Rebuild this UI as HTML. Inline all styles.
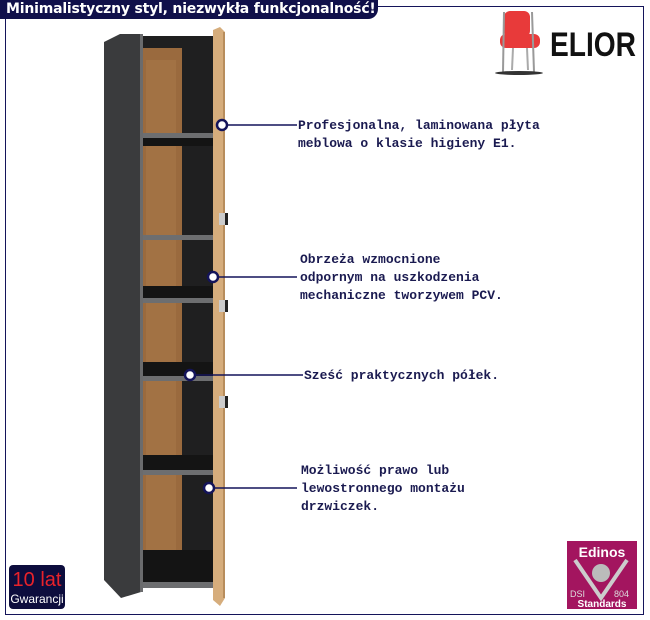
<!DOCTYPE html>
<html><head><meta charset="utf-8"><style>
body{margin:0;width:650px;height:620px;background:#fff;overflow:hidden;font-family:"Liberation Sans",sans-serif}
.t{position:absolute;font-family:"Liberation Mono","DejaVu Sans Mono",monospace;font-weight:bold;font-size:13px;color:#1a1a50;line-height:18px}
</style></head><body>
<div style="position:absolute;left:5px;top:6px;width:637px;height:607px;border:1.5px solid #14145a"></div>
<div style="position:absolute;left:0;top:0;width:378px;height:19px;background:#10104a;border-bottom-right-radius:10px;color:#fff;font-weight:bold;font-size:14px;line-height:18px;padding-left:6px;box-sizing:border-box;font-family:'DejaVu Sans',sans-serif;letter-spacing:-0.2px">Minimalistyczny styl, niezwykła funkcjonalność!</div>
<svg width="650" height="620" style="position:absolute;left:0;top:0">
<!-- chair -->
<g>
<rect x="504" y="11" width="26" height="26" rx="6" fill="#e83a3a"/>
<rect x="500" y="34" width="40" height="14" rx="6" fill="#e83a3a"/>
<line x1="504" y1="12" x2="503" y2="72" stroke="#999" stroke-width="2"/>
<line x1="532" y1="12" x2="534" y2="72" stroke="#999" stroke-width="2"/>
<line x1="513" y1="48" x2="512" y2="70" stroke="#aaa" stroke-width="2"/>
<line x1="527" y1="48" x2="528" y2="70" stroke="#aaa" stroke-width="2"/>
<ellipse cx="519" cy="73" rx="24" ry="2" fill="#333"/>
</g>
<text x="550" y="56" font-family="Liberation Sans Narrow,Liberation Sans,sans-serif" font-weight="bold" font-size="34" fill="#111" textLength="86" lengthAdjust="spacingAndGlyphs">ELIOR</text>
<!-- cabinet side -->
<polygon points="104,42 120,34 141,34 141,592 121,598 104,580" fill="#3a3b3d"/>
<rect x="140" y="34" width="3" height="558" fill="#6a6b6d"/>
<rect x="143" y="36" width="70" height="552" fill="#1f1f20"/>
<rect x="143" y="48" width="39" height="530" fill="#9a6a3e"/>
<rect x="146" y="60" width="30" height="510" fill="#a9784a" opacity="0.6"/>
<g fill="#6d6e70">
<rect x="143" y="133" width="70" height="5"/>
<rect x="143" y="235" width="70" height="5"/>
<rect x="143" y="298" width="70" height="5"/>
<rect x="143" y="376" width="70" height="5"/>
<rect x="143" y="470" width="70" height="5"/>
<rect x="143" y="582" width="70" height="6"/>
</g>
<g fill="#141414">
<rect x="143" y="138" width="70" height="8"/>
<rect x="143" y="286" width="70" height="12"/>
<rect x="143" y="362" width="70" height="14"/>
<rect x="143" y="455" width="70" height="15"/>
<rect x="143" y="550" width="70" height="32"/>
</g>
<!-- door -->
<polygon points="213,30 220,27 225,32 225,598 220,606 213,600" fill="#d6ad7c"/>
<rect x="223" y="32" width="2" height="566" fill="#b88d5c"/>
<rect x="219" y="213" width="9" height="12" fill="#ccc"/><rect x="225" y="213" width="3" height="12" fill="#222"/>
<rect x="219" y="300" width="9" height="12" fill="#ccc"/><rect x="225" y="300" width="3" height="12" fill="#222"/>
<rect x="219" y="396" width="9" height="12" fill="#ccc"/><rect x="225" y="396" width="3" height="12" fill="#222"/>
<!-- connectors -->
<g stroke="#14145a" stroke-width="1.5" fill="#fff">
<line x1="222" y1="125" x2="297" y2="125"/>
<line x1="213" y1="277" x2="297" y2="277"/>
<line x1="190" y1="375" x2="303" y2="375"/>
<line x1="209" y1="488" x2="297" y2="488"/>
<circle cx="222" cy="125" r="5" stroke-width="2.5"/>
<circle cx="213" cy="277" r="5" stroke-width="2.5"/>
<circle cx="190" cy="375" r="5" stroke-width="2.5"/>
<circle cx="209" cy="488" r="5" stroke-width="2.5"/>
</g>
<!-- badges -->
<rect x="9" y="565" width="56" height="44" rx="4" fill="#0d0d3d"/>
<text x="37" y="586" text-anchor="middle" font-size="20" fill="#e8222a" font-family="Liberation Sans,sans-serif">10 lat</text>
<text x="37" y="603" text-anchor="middle" font-size="12" fill="#fff" font-family="Liberation Sans,sans-serif">Gwarancji</text>
<rect x="567" y="541" width="70" height="68" fill="#a3155f"/>
<text x="602" y="557" text-anchor="middle" font-size="14" font-weight="bold" fill="#fff">Edinos</text>
<polyline points="575,560 601,598 627,560" fill="none" stroke="#ccc" stroke-width="4"/>
<circle cx="601" cy="573" r="9" fill="#bbb"/>
<text x="570" y="597" font-size="9" fill="#ddd">DSI</text>
<text x="614" y="597" font-size="9" fill="#ddd">804</text>
<text x="602" y="607" text-anchor="middle" font-size="10" font-weight="bold" fill="#fff">Standards</text>
</svg>
<div class="t" style="left:298px;top:117px">Profesjonalna, laminowana płyta<br>meblowa o klasie higieny E1.</div>
<div class="t" style="left:300px;top:251px">Obrzeża wzmocnione<br>odpornym na uszkodzenia<br>mechaniczne tworzywem PCV.</div>
<div class="t" style="left:304px;top:367px">Sześć praktycznych półek.</div>
<div class="t" style="left:301px;top:462px">Możliwość prawo lub<br>lewostronnego montażu<br>drzwiczek.</div>
</body></html>
